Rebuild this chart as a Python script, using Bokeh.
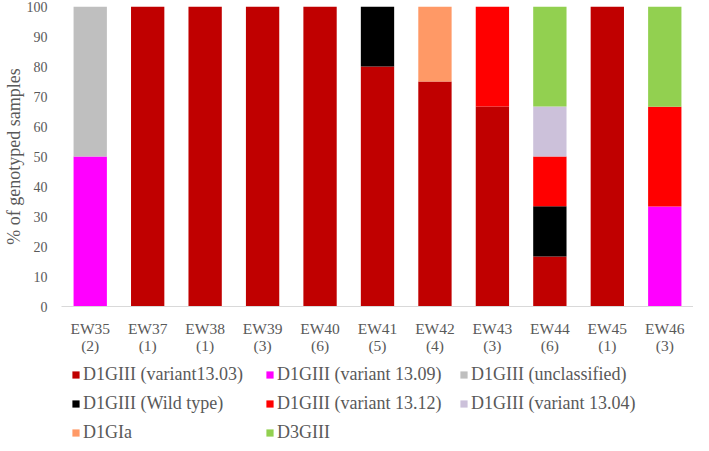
from bokeh.plotting import figure
from bokeh.layouts import column
from bokeh.models import (FactorRange, Range1d, Legend, LegendItem, ColumnDataSource,
                          SingleIntervalTicker)
from bokeh.embed import file_html
from bokeh.resources import INLINE

# ---- data ----
weeks = ["EW35", "EW37", "EW38", "EW39", "EW40", "EW41", "EW42", "EW43", "EW44", "EW45", "EW46"]
counts = ["(2)", "(1)", "(1)", "(3)", "(6)", "(5)", "(4)", "(3)", "(6)", "(1)", "(3)"]

genotypes = ["D1GIII (variant13.03)", "D1GIII (variant 13.09)", "D1GIII (unclassified)",
             "D1GIII (Wild type)", "D1GIII (variant 13.12)", "D1GIII (variant 13.04)",
             "D1GIa", "D3GIII"]
colors = ["#C00000", "#FF00FF", "#BFBFBF", "#000000", "#FF0000", "#CCC1DA", "#FF9966", "#92D050"]

v1303 = [0, 100, 100, 100, 100, 80, 75, 66.7, 16.7, 100, 0]
v1309 = [50, 0, 0, 0, 0, 0, 0, 0, 0, 0, 33.3]
unclassified = [50, 0, 0, 0, 0, 0, 0, 0, 0, 0, 0]
wild_type = [0, 0, 0, 0, 0, 20, 0, 0, 16.7, 0, 0]
v1312 = [0, 0, 0, 0, 0, 0, 0, 33.3, 16.6, 0, 33.3]
v1304 = [0, 0, 0, 0, 0, 0, 0, 0, 16.7, 0, 0]
d1gia = [0, 0, 0, 0, 0, 0, 25, 0, 0, 0, 0]
d3giii = [0, 0, 0, 0, 0, 0, 0, 0, 33.3, 0, 33.4]

series = [v1303, v1309, unclassified, wild_type, v1312, v1304, d1gia, d3giii]
keys = ["s%d" % i for i in range(len(series))]

factors = ["%s\n%s" % (w, c) for w, c in zip(weeks, counts)]

data = {"x": factors}
for k, s in zip(keys, series):
    data[k] = s
source = ColumnDataSource(data)

FONT = "Liberation Serif"
GRAY = "#595959"

# ---- main chart ----
p = figure(x_range=FactorRange(factors=factors), y_range=Range1d(0, 100),
           width=693, height=356, output_backend="svg", toolbar_location=None,
           min_border_left=48, min_border_right=0, min_border_top=6, min_border_bottom=40)

p.vbar_stack(keys, x="x", width=0.58, color=colors, source=source, line_color=None)

p.xgrid.grid_line_color = None
p.ygrid.grid_line_color = None
p.outline_line_color = None

p.xaxis.axis_line_color = "#D9D9D9"
p.xaxis.major_tick_line_color = None
p.xaxis.minor_tick_line_color = None
p.xaxis.major_label_text_font = FONT
p.xaxis.major_label_text_font_size = "15.5px"
p.xaxis.major_label_text_color = GRAY
p.xaxis.major_label_text_line_height = 1.0
p.xaxis.major_label_standoff = 7

p.yaxis.ticker = SingleIntervalTicker(interval=10)
p.yaxis.axis_line_color = None
p.yaxis.major_tick_line_color = None
p.yaxis.minor_tick_line_color = None
p.yaxis.major_label_text_font = FONT
p.yaxis.major_label_text_font_size = "14px"
p.yaxis.major_label_text_color = GRAY
p.yaxis.major_label_standoff = 8
p.yaxis.axis_label = "% of genotyped samples"
p.yaxis.axis_label_text_font = FONT
p.yaxis.axis_label_text_font_size = "18px"
p.yaxis.axis_label_text_font_style = "normal"
p.yaxis.axis_label_text_color = GRAY
p.yaxis.axis_label_standoff = 0

# ---- legend panel ----
q = figure(width=693, height=87, output_backend="svg", toolbar_location=None,
           x_axis_type=None, y_axis_type=None, x_range=Range1d(0, 1), y_range=Range1d(0, 1),
           min_border=0)
q.outline_line_color = None
q.grid.visible = False

# legend swatches need a renderer; its single point lies outside the visible range
dummy = ColumnDataSource({"x": [-5], "top": [-5]})
items = []
for g, c in zip(genotypes, colors):
    r = q.vbar(x="x", top="top", width=0.1, color=c, line_color=None, source=dummy)
    items.append(LegendItem(label=g, renderers=[r]))

legend = Legend(items=items, ncols=3, orientation="horizontal",
                location=(10, 0), padding=0, margin=0, spacing=8,
                label_text_font=FONT, label_text_font_size="18px", label_text_color=GRAY,
                label_height=20, label_width=174, label_standoff=3,
                glyph_width=9, glyph_height=9,
                border_line_color=None, background_fill_alpha=0)
q.add_layout(legend, "center")

layout = column(p, q, spacing=0)
open("out.html", "w").write(file_html(layout, INLINE))
